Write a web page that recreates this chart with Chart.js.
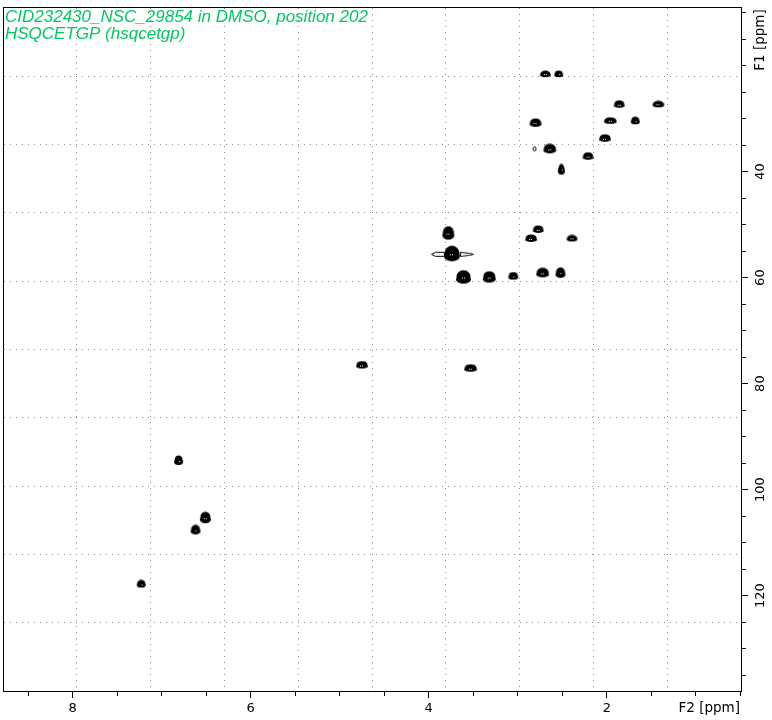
<!DOCTYPE html>
<html>
<head>
<meta charset="utf-8">
<script src="https://cdn.jsdelivr.net/npm/chart.js@4.4.0/dist/chart.umd.min.js"></script>
<style>
  html, body { margin: 0; padding: 0; background: #fff; }
</style>
</head>
<body>
<canvas id="hsqc" width="772" height="720"></canvas>
<script>
// cross peaks: F2 (1H, ppm) and F1 (13C, ppm)
const peakF2 = [2.69, 2.54, 1.86, 1.42, 1.96, 1.68, 2.80, 2.02, 2.81, 2.64, 2.21, 2.51,
                3.78, 2.77, 2.85, 2.39, 3.74, 3.61, 3.32, 3.05, 2.72, 2.52,
                4.75, 3.53, 6.81, 6.51, 6.62, 7.23];
const peakF1 = [21.6, 21.6, 27.3, 27.3, 30.4, 30.4, 30.8, 33.7, 35.7, 35.7, 37.1, 39.6,
                51.6, 50.9, 52.6, 52.6, 55.5, 59.9, 59.9, 59.7, 59.1, 59.1,
                76.5, 77.1, 94.5, 105.3, 107.6, 117.8];

const titleLines = ["CID232430_NSC_29854 in DMSO, position 202", "HSQCETGP (hsqcetgp)"];
const xTitle = "F2 [ppm]";
const yTitle = "F1 [ppm]";
const xLabels = [8, 6, 4, 2];
const yLabels = [40, 60, 80, 100, 120];

// drawing sizes of each contour blob in pixels (style only)
const peakSize = [[11,6],[9,6],[11,7],[12,6],[13,6],[9,7],[12,8],[12,7],[3,4],[13,9],[11,7],[7,10],
                  [12,13],[11,7],[12,7],[11,6],[16,15],[15,13],[13,11],[10,7],[13,9],[10,10],
                  [12,7],[13,7],[9,9],[11,11],[10,9],[9,7]];

const titleColor = "#00c864";

function peakImage(w, h) {
    let cv = document.createElement("canvas");
    cv.width = w + 2;
    cv.height = h + 2;
    let g = cv.getContext("2d");
    let cx = cv.width / 2, cy = cv.height / 2;
    if (w < 5) {
        g.beginPath();
        g.ellipse(cx, cy, w / 2, h / 2, 0, 0, 2 * Math.PI);
        g.lineWidth = 1;
        g.strokeStyle = "#000";
        g.stroke();
        return cv;
    }
    g.fillStyle = "#000";
    // slightly lumpy outline: main ellipse plus a flatter lower lobe
    g.beginPath();
    g.ellipse(cx, cy - 0.5, w / 2 - 0.5, h / 2, 0, 0, 2 * Math.PI);
    g.fill();
    g.beginPath();
    g.ellipse(cx, cy + h / 6, w / 2, h / 3, 0, 0, 2 * Math.PI);
    g.fill();
    g.fillStyle = "#fff";
    g.fillRect(Math.round(cx), Math.round(cy), 1, 1);
    if (w > 10) g.fillRect(Math.round(cx) - 2, Math.round(cy), 1, 1);
    return cv;
}

// thin side contours of the strong peak near 3.74/55.5
function wingImage() {
    let cv = document.createElement("canvas");
    cv.width = 46;
    cv.height = 8;
    let g = cv.getContext("2d");
    g.strokeStyle = "#000";
    g.lineWidth = 1;
    g.beginPath();
    g.moveTo(2.5, 4.5);
    g.lineTo(6.5, 2.5);
    g.lineTo(15.5, 2.5);
    g.lineTo(15.5, 6.5);
    g.lineTo(6.5, 6.5);
    g.closePath();
    g.stroke();
    g.beginPath();
    g.moveTo(31.5, 2.5);
    g.lineTo(40.5, 3.5);
    g.lineTo(44.5, 4.5);
    g.lineTo(40.5, 5.5);
    g.lineTo(31.5, 6.5);
    g.closePath();
    g.stroke();
    return cv;
}

const peakImgs = peakSize.map(s => peakImage(s[0], s[1]));
const wingImg = wingImage();

const textPlugin = {
    id: "spectrumText",
    afterDraw(chart) {
        let c = chart.ctx;
        c.save();
        c.fillStyle = titleColor;
        c.font = 'italic 17px "Liberation Sans"';
        c.textBaseline = "alphabetic";
        titleLines.forEach((t, i) => c.fillText(t, 5, 21.5 + i * 17));
        c.fillStyle = "#000";
        c.font = '13.5px "DejaVu Sans"';
        c.textAlign = "right";
        c.fillText(xTitle, 740, 712);
        c.translate(760, 40);
        c.rotate(-Math.PI / 2);
        c.textAlign = "center";
        c.textBaseline = "middle";
        c.fillText(yTitle, 0, 0);
        c.restore();
    }
};

const gridColor = ctx => (ctx.tick && (ctx.tick.value === 0 || ctx.tick.value === 10)) ? "rgba(0,0,0,0)" : "#8c8c8c";
const tickFont = { family: "DejaVu Sans", size: 13 };

let ctx = document.getElementById("hsqc").getContext("2d");

new Chart(ctx, {
    type: "scatter",
    data: {
        datasets: [{
            label: "peaks",
            data: peakF2.map((x, i) => ({ x: x, y: peakF1[i] })),
            pointStyle: c => peakImgs[c.dataIndex] || peakImgs[0],
            pointRadius: 6
        }, {
            label: "wings",
            data: [{ x: peakF2[16], y: peakF1[16] }],
            pointStyle: wingImg,
            pointRadius: 6
        }]
    },
    options: {
        responsive: false,
        animation: false,
        events: [],
        layout: { autoPadding: false, padding: { left: 3, top: 3, right: 0, bottom: 0 } },
        plugins: {
            legend: { display: false },
            tooltip: { enabled: false }
        },
        scales: {
            x: {
                type: "linear",
                position: "bottom",
                reverse: true,
                min: 0.492,
                max: 8.783,
                ticks: {
                    stepSize: 0.5,
                    includeBounds: false,
                    autoSkip: false,
                    maxRotation: 0,
                    color: "#000",
                    font: tickFont,
                    padding: 3,
                    callback: v => xLabels.includes(v) ? String(v) : ""
                },
                grid: {
                    drawOnChartArea: false,
                    tickLength: 7,
                    tickColor: "#000",
                    tickBorderDash: c => (c.tick && xLabels.includes(c.tick.value)) ? [] : [4, 20]
                },
                border: { display: true, color: "#000", width: 1 },
                afterFit: s => { s.height = 29; }
            },
            y: {
                type: "linear",
                position: "right",
                reverse: true,
                min: 9.09,
                max: 138,
                ticks: {
                    stepSize: 5,
                    includeBounds: false,
                    autoSkip: false,
                    minRotation: 90,
                    maxRotation: 90,
                    crossAlign: "center",
                    color: "#000",
                    font: tickFont,
                    padding: 0,
                    callback: v => yLabels.includes(v) ? String(v) : ""
                },
                grid: {
                    drawOnChartArea: false,
                    tickLength: 7,
                    tickColor: "#000",
                    tickBorderDash: c => (c.tick && yLabels.includes(c.tick.value)) ? [] : [4, 20]
                },
                border: { display: true, color: "#000", width: 1 },
                afterFit: s => { s.width = 31; }
            },
            x2: {
                type: "linear",
                position: "top",
                min: 0,
                max: 10,
                ticks: { display: false, stepSize: 1 },
                grid: { color: gridColor, drawTicks: false, lineWidth: 1 },
                border: { display: true, color: "#000", width: 1, dash: [1, 5] },
                afterFit: s => { s.height = 0; }
            },
            y2: {
                type: "linear",
                position: "left",
                min: 0,
                max: 10,
                ticks: { display: false, stepSize: 1 },
                grid: { color: gridColor, drawTicks: false, lineWidth: 1 },
                border: { display: true, color: "#000", width: 1, dash: [1, 5] },
                afterFit: s => { s.width = 0; }
            }
        }
    },
    plugins: [textPlugin]
});
</script>
</body>
</html>
